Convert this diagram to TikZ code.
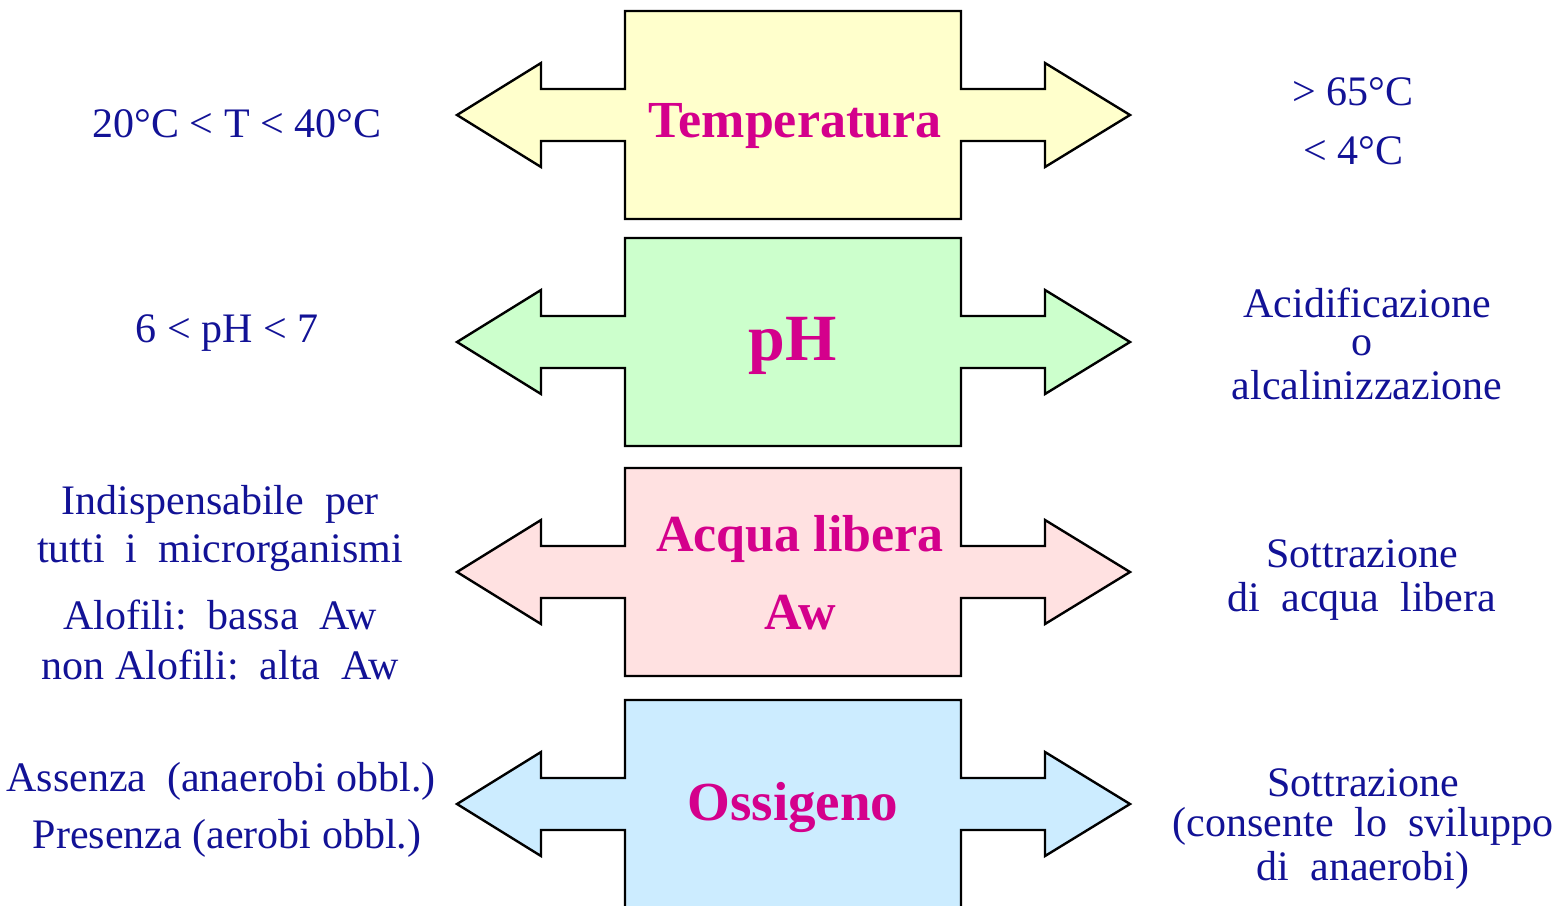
\documentclass[tikz,border=0pt]{standalone}
\usepackage{fontspec}
\setmainfont{Liberation Serif}
\definecolor{tblue}{RGB}{18,18,150}
\definecolor{tmag}{RGB}{212,0,140}
\definecolor{fyel}{RGB}{255,255,204}
\definecolor{fgrn}{RGB}{204,255,204}
\definecolor{fpnk}{RGB}{255,225,225}
\definecolor{fblu}{RGB}{204,236,255}
\tikzset{
  x=0.5pt, y=-0.5pt,
  shapebox/.style={draw=black, line width=1.2pt, line join=miter},
  side/.style={text=tblue, font=\fontsize{21}{24}\selectfont, align=center, inner sep=0pt, yshift=-2pt},
  title/.style={text=tmag, font=\fontsize{26}{36}\selectfont\bfseries, align=center, inner sep=0pt, yshift=-2pt},
}
\newcommand{\dblarrow}[2]{%
  \path[shapebox, fill=#2]
    (625,#1-104) -- (961,#1-104) -- (961,#1-26) -- (1045,#1-26) -- (1045,#1-52)
    -- (1130,#1) -- (1045,#1+52) -- (1045,#1+26) -- (961,#1+26) -- (961,#1+104)
    -- (625,#1+104) -- (625,#1+26) -- (541,#1+26) -- (541,#1+52) -- (457,#1)
    -- (541,#1-52) -- (541,#1-26) -- (625,#1-26) -- cycle;}
\begin{document}
\begin{tikzpicture}
\useasboundingbox (0,0) rectangle (1561,905);
\clip (0,0) rectangle (1561,905);
\dblarrow{115}{fyel}
\dblarrow{342}{fgrn}
\dblarrow{572}{fpnk}
\dblarrow{804}{fblu}
% titles
\node[title] (t1) at (795,122) {Temperatura};
\node[title, font=\fontsize{33}{36}\selectfont\bfseries] (t2) at (793,342) {pH};
\node[title] (t3a) at (800,535) {Acqua libera};
\node[title] (t3b) at (800,609) {Aw};
\node[title, font=\fontsize{27.5}{36}\selectfont\bfseries] (t4) at (793,803) {Ossigeno};
% row 1
\node[side] (l1) at (237,120) {20°C < T < 40°C};
\node[side] (r1a) at (1353,88) {> 65°C};
\node[side] (r1b) at (1353,147) {< 4°C};
% row 2
\node[side] (l2) at (227,329) {6 < pH < 7};
\node[side] (r2a) at (1367,299) {Acidificazione};
\node[side] (r2b) at (1362,342) {o};
\node[side] (r2c) at (1367,381) {alcalinizzazione};
% row 3
\node[side] (l3a) at (220,500) {Indispensabile\ \ per};
\node[side] (l3b) at (220,549) {tutti\ \ i\ \ microrganismi};
\node[side] (l3c) at (220,611) {Alofili:\ \ bassa\ \ Aw};
\node[side] (l3d) at (220,661) {non Alofili:\ \ alta\ \ Aw};
\node[side] (r3a) at (1362,550) {Sottrazione};
\node[side] (r3b) at (1362,597) {di\ \ acqua\ \ libera};
% row 4
\node[side] (l4a) at (221,777) {Assenza\ \ (anaerobi obbl.)};
\node[side] (l4b) at (227,834) {Presenza (aerobi obbl.)};
\node[side] (r4a) at (1363,779) {Sottrazione};
\node[side] (r4b) at (1363,822) {(consente\ \ lo\ \ sviluppo};
\node[side] (r4c) at (1363,866) {di\ \ anaerobi)};
\end{tikzpicture}
\end{document}
